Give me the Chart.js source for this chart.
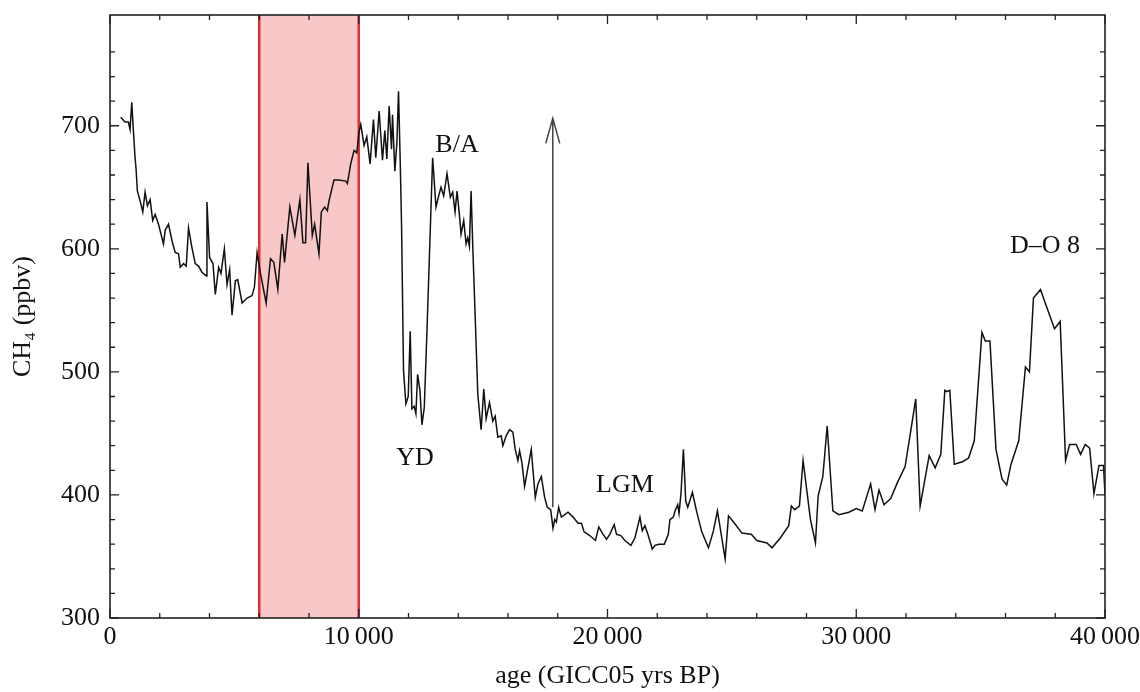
<!DOCTYPE html>
<html>
<head>
<meta charset="utf-8">
<script src="https://cdn.jsdelivr.net/npm/chart.js@4"></script>
<style>
  html, body { margin: 0; padding: 0; background: #fff; }
  #wrap { width: 1140px; height: 692px; }
</style>
</head>
<body>
<div id="wrap"><canvas id="ch4Chart" width="1140" height="692"></canvas></div>
<script>
// age (GICC05 yrs BP) and CH4 (ppbv)
const ages = [
  430, 605, 740, 806, 875, 940, 1008, 1048, 1100, 1210, 1318, 1410, 1505, 1613, 1717, 1815, 1950,
  2150, 2218, 2352, 2487, 2621, 2755, 2823, 2956, 3065, 3157, 3294, 3427, 3560, 3697, 3871, 3898,
  4003, 4140, 4234, 4368, 4462, 4597, 4704, 4811, 4906, 5040, 5134, 5310, 5511, 5712, 5806, 5914,
  6048, 6277, 6452, 6586, 6747, 6922, 7016, 7230, 7432, 7634, 7755, 7863, 7956, 8133, 8226, 8400,
  8496, 8629, 8738, 8804, 9005, 9206, 9476, 9544, 9677, 9812, 9920, 10012, 10080,
  10215, 10323, 10456, 10591, 10685, 10820, 10954, 11048, 11129, 11222, 11317, 11358, 11451, 11532,
  11599, 11666, 11720, 11800, 11895, 11989, 12069, 12137, 12230, 12298, 12366, 12460, 12540, 12634,
  12742, 12970, 13105, 13239, 13306, 13414, 13548, 13682, 13777, 13871, 13952, 14045, 14113, 14220,
  14315, 14382, 14448, 14516, 14585, 14677, 14785,
  14919, 15027, 15121, 15255, 15390, 15484, 15592, 15726, 15793, 15927, 16062, 16196, 16290, 16398,
  16465, 16560, 16667, 16828, 16935, 17097, 17204, 17339, 17473, 17581, 17715, 17809, 17876, 17944,
  18036, 18145, 18414, 18616, 18817, 18952, 19060, 19286, 19516, 19649, 19823, 19960, 20093, 20270,
  20363, 20537, 20698, 20940, 21102, 21304, 21398, 21505, 21639, 21800, 21908, 22069, 22283, 22444,
  22511, 22645, 22715, 22823, 22876, 22957, 23052, 23145, 23226, 23414, 23589, 23790, 24059, 24260,
  24420, 24730, 24864, 25067, 25403, 25779, 26008, 26411, 26613, 26948, 27285, 27392, 27527, 27715,
  27863, 28159, 28360, 28468, 28657, 28831, 29060, 29301, 29704, 30000, 30242, 30578, 30754, 30915,
  31116, 31385, 31653, 31964, 32191, 32392, 32568, 32931, 33173, 33399, 33561, 33642, 33762, 33940,
  34274, 34516, 34745, 35052, 35187, 35375, 35617, 35859, 36048, 36222, 36532, 36802, 36962, 37124,
  37406, 37702, 37970, 38198, 38415, 38577, 38843, 39020, 39206, 39383, 39556, 39758, 39940, 40000
];
const ch4 = [
  707, 703, 703, 697, 719, 696, 674, 665, 647, 639, 630, 646, 635, 640, 623, 628, 620,
  604, 615, 620, 607, 597, 596, 585, 588, 586, 617, 601, 588, 586, 581, 578, 638,
  593, 588, 563, 585, 580, 600, 571, 583, 546, 574, 575, 556, 560, 562, 569, 597,
  580, 556, 592, 589, 567, 612, 589, 634, 611, 640, 605, 605, 670, 611, 620, 596,
  630, 634, 631, 639, 656, 656, 655, 653, 669, 680, 678, 695, 701,
  684, 691, 669, 705, 674, 712, 672, 696, 673, 716, 681, 709, 663, 686,
  728, 672, 620, 501, 474, 480, 533, 470, 472, 466, 498, 485, 457, 471,
  533, 674, 634, 645, 650, 643, 661, 642, 646, 630, 647, 628, 612, 623,
  604, 609, 602, 647, 601, 547, 482,
  453, 486, 462, 475, 460, 464, 447, 448, 440, 448, 453, 451, 437, 428,
  436, 426, 407, 425, 437, 398, 409, 415, 398, 390, 388, 373, 380, 378,
  390, 382, 386, 382, 377, 377, 370, 367, 363, 374, 368, 364, 368, 376,
  368, 367, 363, 359, 365, 382, 371, 375, 367, 356, 359, 360, 360, 368,
  380, 382, 387, 392, 385, 402, 437, 395, 390, 402, 386, 370, 357, 371,
  387, 348, 383, 378, 369, 368, 363, 361, 357, 365, 375, 391, 388, 391,
  428, 380, 361, 399, 415, 456, 387, 384, 386, 389, 387, 409, 388, 404,
  392, 397, 410, 423, 452, 478, 391, 432, 422, 433, 485, 484, 485, 425,
  427, 430, 444, 532, 525, 525, 437, 413, 408, 425, 444, 504, 500, 560,
  567, 550, 535, 541, 428, 441, 441, 433, 441, 438, 401, 424, 424, 400
];

const xTicksLabelled = [0, 10000, 20000, 30000, 40000];
const yTicksLabelled = [300, 400, 500, 600, 700];

// shaded interval and arrow
const bandStart = 6000;
const bandEnd = 10000;
const arrowAge = 17800;
const arrowFrom = 390;
const arrowTo = 706;

const labelTexts = ["B/A", "YD", "LGM", "D\u2013O 8"];
const labelAges = [13950, 12260, 20700, 37590];
const labelValues = [684, 430, 408, 602];

const serif = "'Liberation Serif', 'Times New Roman', serif";

function fmtAge(v) {
  if (v < 10000) return String(v);
  const s = String(v);
  return s.slice(0, s.length - 3) + "\u2009" + s.slice(-3);
}

const decorations = {
  id: "decorations",
  beforeDatasetsDraw(chart) {
    const { ctx, chartArea: a, scales: { x } } = chart;
    const x0 = x.getPixelForValue(bandStart);
    const x1 = x.getPixelForValue(bandEnd);
    ctx.save();
    ctx.fillStyle = "#f8c7c7";
    ctx.fillRect(x0, a.top, x1 - x0, a.bottom - a.top);
    ctx.strokeStyle = "#e4302c";
    ctx.lineWidth = 2.5;
    ctx.beginPath();
    ctx.moveTo(x0, a.top); ctx.lineTo(x0, a.bottom);
    ctx.moveTo(x1, a.top); ctx.lineTo(x1, a.bottom);
    ctx.stroke();
    ctx.restore();
  },
  afterDatasetsDraw(chart) {
    const { ctx, chartArea: a, scales: { x, y } } = chart;
    ctx.save();

    // arrow
    const ax = x.getPixelForValue(arrowAge);
    const ay0 = y.getPixelForValue(arrowFrom);
    const ay1 = y.getPixelForValue(arrowTo);
    ctx.strokeStyle = "#444";
    ctx.lineWidth = 1.5;
    ctx.beginPath();
    ctx.moveTo(ax, ay0); ctx.lineTo(ax, ay1);
    ctx.moveTo(ax - 7, ay1 + 25); ctx.lineTo(ax, ay1); ctx.lineTo(ax + 7, ay1 + 25);
    ctx.stroke();

    // annotations
    ctx.fillStyle = "#111";
    ctx.font = "26px " + serif;
    ctx.textAlign = "center";
    ctx.textBaseline = "middle";
    labelTexts.forEach((t, i) => {
      ctx.fillText(t, x.getPixelForValue(labelAges[i]), y.getPixelForValue(labelValues[i]));
    });

    // frame
    ctx.strokeStyle = "#222";
    ctx.lineWidth = 1.6;
    ctx.strokeRect(a.left, a.top, a.right - a.left, a.bottom - a.top);

    // inward ticks on all sides
    ctx.lineWidth = 1.3;
    ctx.beginPath();
    x.ticks.forEach(t => {
      if (t.value % 2000 !== 0) return;
      const px = x.getPixelForValue(t.value);
      const len = xTicksLabelled.includes(t.value) ? 9 : 5;
      ctx.moveTo(px, a.bottom); ctx.lineTo(px, a.bottom - len);
      ctx.moveTo(px, a.top); ctx.lineTo(px, a.top + len);
    });
    y.ticks.forEach(t => {
      if (t.value % 20 !== 0) return;
      const py = y.getPixelForValue(t.value);
      const len = yTicksLabelled.includes(t.value) ? 9 : 5;
      ctx.moveTo(a.left, py); ctx.lineTo(a.left + len, py);
      ctx.moveTo(a.right, py); ctx.lineTo(a.right - len, py);
    });
    ctx.stroke();
    ctx.restore();
  }
};

const ctx = document.getElementById("ch4Chart").getContext("2d");

const ch4Chart = new Chart(ctx, {
  type: "line",
  data: {
    datasets: [{
      data: ages.map((a, i) => ({ x: a, y: ch4[i] })),
      borderColor: "#111",
      borderWidth: 1.5,
      pointRadius: 0,
      tension: 0,
      fill: false
    }]
  },
  options: {
    responsive: false,
    animation: false,
    events: [],
    layout: { padding: { top: 15, right: 35, left: 0, bottom: 0 } },
    plugins: {
      legend: { display: false },
      tooltip: { enabled: false }
    },
    scales: {
      x: {
        type: "linear",
        min: 0,
        max: 40000,
        afterFit(scale) {
          scale.height = 74;
          scale.paddingLeft = 0;
          scale.paddingRight = 0;
        },
        grid: { display: false, drawTicks: false },
        border: { display: false },
        ticks: {
          stepSize: 2000,
          autoSkip: false,
          maxRotation: 0,
          padding: 4,
          color: "#111",
          font: { family: serif, size: 26 },
          callback: v => xTicksLabelled.includes(v) ? fmtAge(v) : ""
        },
        title: {
          display: true,
          text: "age (GICC05 yrs BP)",
          color: "#111",
          font: { family: serif, size: 26 },
          padding: { top: 0, bottom: 0 }
        }
      },
      y: {
        min: 300,
        max: 790,
        afterFit(scale) {
          scale.width = 110;
          scale.paddingTop = 0;
          scale.paddingBottom = 0;
        },
        grid: { display: false, drawTicks: false },
        border: { display: false },
        ticks: {
          stepSize: 20,
          autoSkip: false,
          padding: 10,
          color: "#111",
          font: { family: serif, size: 26 },
          callback: v => yTicksLabelled.includes(v) ? String(v) : ""
        },
        title: {
          display: true,
          text: "CH\u2084 (ppbv)",
          color: "#111",
          font: { family: serif, size: 26 },
          padding: { top: 8, bottom: 0 }
        }
      }
    }
  },
  plugins: [decorations]
});
</script>
</body>
</html>
